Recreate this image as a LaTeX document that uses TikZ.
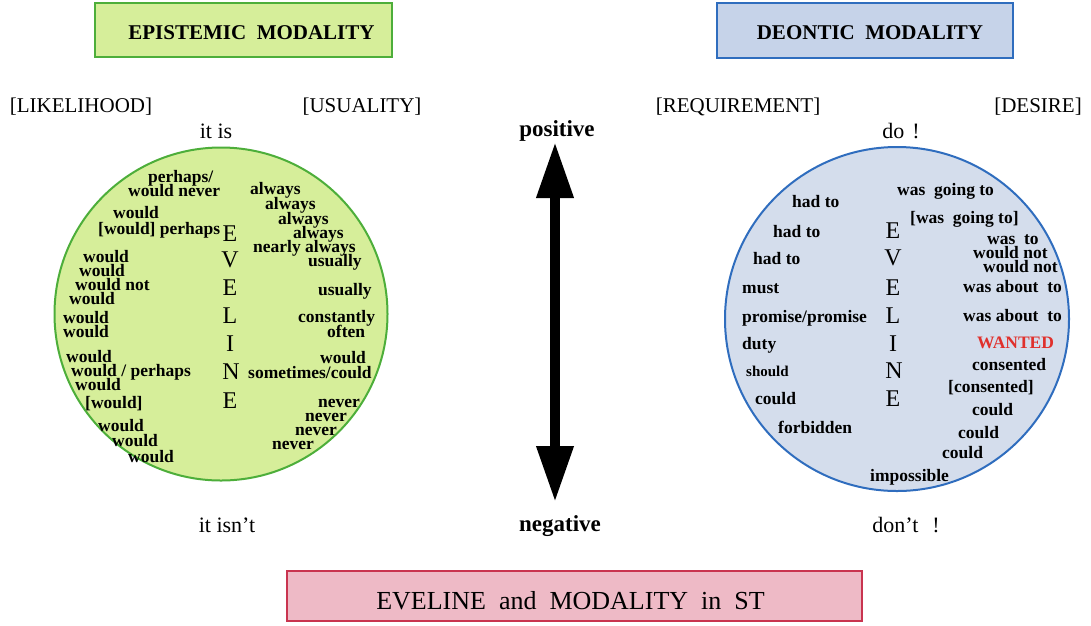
\documentclass[tikz,border=0pt]{standalone}
\usepackage{fontspec}
\setmainfont{Liberation Serif}
\usetikzlibrary{arrows.meta}

\definecolor{epifill}{HTML}{D6EE9A}
\definecolor{epiline}{HTML}{4DAE3A}
\definecolor{deofill}{HTML}{D4DDEC}
\definecolor{deoboxfill}{HTML}{C6D3E9}
\definecolor{deoline}{HTML}{2F6DBE}
\definecolor{stfill}{HTML}{EEBAC6}
\definecolor{stline}{HTML}{C9344F}
\definecolor{wantred}{HTML}{E0302C}

\begin{document}
\begin{tikzpicture}[x=1pt,y=-1pt,
  wd/.style={anchor=west,inner sep=0pt,font=\fontsize{17.5}{17.5}\selectfont\bfseries,text height=12pt,text depth=0pt},
  lbl/.style={inner sep=0pt,font=\fontsize{21}{21}\selectfont,text height=14pt,text depth=0pt},
  pole/.style={inner sep=0pt,font=\fontsize{23}{23}\selectfont\bfseries,text height=15pt,text depth=0pt},
  evl/.style={inner sep=0pt,font=\fontsize{24}{24}\selectfont,text height=16pt,text depth=0pt},
  titlebox/.style={rectangle,inner sep=0pt,line width=2pt,font=\fontsize{21}{21}\selectfont\bfseries,text height=18pt,text depth=0pt},
  disc/.style={circle,inner sep=0pt,line width=2pt}
]
\useasboundingbox (0,0) rectangle (1091,625);

% ---- headings ----
\node[titlebox,draw=epiline,fill=epifill,minimum width=297pt,minimum height=54pt] (epibox) at (243.5,30) {\hspace*{16pt}EPISTEMIC\ \ MODALITY};
\node[titlebox,draw=deoline,fill=deoboxfill,minimum width=296pt,minimum height=55pt] (deobox) at (865,30.5) {\hspace*{10pt}DEONTIC\ \ MODALITY};
\node[rectangle,inner sep=0pt,line width=2pt,draw=stline,fill=stfill,minimum width=575pt,minimum height=50pt,
      font=\fontsize{26}{26}\selectfont,text height=26pt,text depth=0pt] (stbox) at (574.5,596)
      {EVELINE\ \ and\ \ MODALITY\ \ in\ \ ST\hspace*{8pt}};

% ---- category labels ----
\node[lbl] (likel) at (81,105) {[LIKELIHOOD]};
\node[lbl] (usual) at (362,105) {[USUALITY]};
\node[lbl] (requi) at (738,105) {[REQUIREMENT]};
\node[lbl] (desir) at (1038,105) {[DESIRE]};
\node[lbl,font=\fontsize{22}{22}\selectfont] (itis) at (216,131) {it is};
\node[lbl,font=\fontsize{22}{22}\selectfont] (itisnt) at (227,525) {it isn’t};
\node[lbl,font=\fontsize{22}{22}\selectfont] (doit) at (901,131) {do\hspace{8pt}!};
\node[lbl,font=\fontsize{22}{22}\selectfont] (dont) at (906,525) {don’t\hspace{14pt}!};

% ---- polarity axis ----
\node[pole] (pos) at (557,129) {positive};
\node[pole] (neg) at (560,524) {negative};
\coordinate (axtop) at (555,142);
\coordinate (axbot) at (555,502);
\draw[line width=10pt,{Triangle[length=56pt,width=35pt]}-{Triangle[length=56pt,width=35pt]}] (axtop) -- (axbot);

% ---- epistemic disc ----
\node[disc,draw=epiline,fill=epifill,minimum size=333pt] (epidisc) at (221,314) {};
\node[evl] (le1) at (230,233) {E};
\node[evl] (le2) at (230,259) {V};
\node[evl] (le3) at (230,287) {E};
\node[evl] (le4) at (230,315) {L};
\node[evl] (le5) at (230,343) {I};
\node[evl] (le6) at (231,371) {N};
\node[evl] (le7) at (230,400) {E};

\node[wd] (ea1) at (148,176) {perhaps/};
\node[wd] (ea2) at (128,190) {would never};
\node[wd] (ea3) at (113,212) {would};
\node[wd] (ea4) at (98,228) {[would] perhaps};
\node[wd] (ea5) at (83,256) {would};
\node[wd] (ea6) at (79,270) {would};
\node[wd] (ea7) at (75,284) {would not};
\node[wd] (ea8) at (69,298) {would};
\node[wd] (ea9) at (63,317) {would};
\node[wd] (ea10) at (63,331) {would};
\node[wd] (ea11) at (66,356) {would};
\node[wd] (ea12) at (71,370) {would / perhaps};
\node[wd] (ea13) at (75,384) {would};
\node[wd] (ea14) at (85,402) {[would]};
\node[wd] (ea15) at (98,425) {would};
\node[wd] (ea16) at (112,440) {would};
\node[wd] (ea17) at (128,456) {would};

\node[wd] (eb1) at (250,188) {always};
\node[wd] (eb2) at (265,203) {always};
\node[wd] (eb3) at (278,218) {always};
\node[wd] (eb4) at (293,232) {always};
\node[wd] (eb5) at (253,246) {nearly always};
\node[wd] (eb6) at (308,260) {usually};
\node[wd] (eb7) at (318,289) {usually};
\node[wd] (eb8) at (298,316) {constantly};
\node[wd] (eb9) at (327,331) {often};
\node[wd] (eb10) at (320,357) {would};
\node[wd] (eb11) at (248,372) {sometimes/could};
\node[wd] (eb12) at (318,401) {never};
\node[wd] (eb13) at (305,415) {never};
\node[wd] (eb14) at (295,429) {never};
\node[wd] (eb15) at (272,443) {never};

% ---- deontic disc ----
\node[disc,draw=deoline,fill=deofill,minimum size=344pt] (deodisc) at (897,319) {};
\node[evl] (re1) at (893,230) {E};
\node[evl] (re2) at (893,257) {V};
\node[evl] (re3) at (893,287) {E};
\node[evl] (re4) at (893,315) {L};
\node[evl] (re5) at (893,343) {I};
\node[evl] (re6) at (894,370) {N};
\node[evl] (re7) at (893,398) {E};

\node[wd] (da1) at (792,201) {had to};
\node[wd] (da2) at (773,231) {had to};
\node[wd] (da3) at (753,258) {had to};
\node[wd] (da4) at (742,287) {must};
\node[wd] (da5) at (742,316) {promise/promise};
\node[wd] (da6) at (742,343) {duty};
\node[wd,font=\fontsize{15}{15}\selectfont\bfseries] (da7) at (746,370) {should};
\node[wd] (da8) at (755,398) {could};
\node[wd] (da9) at (778,427) {forbidden};

\node[wd] (db1) at (897,189) {was\ \ going to};
\node[wd] (db2) at (910,217) {[was\ \ going to]};
\node[wd] (db3) at (987,238) {was\ \ to};
\node[wd] (db4) at (973,252) {would not};
\node[wd] (db5) at (983,266) {would not};
\node[wd] (db6) at (963,286) {was about\ \ to};
\node[wd] (db7) at (963,315) {was about\ \ to};
\node[wd,text=wantred] (db8) at (977,342) {WANTED};
\node[wd] (db9) at (972,364) {consented};
\node[wd] (db10) at (948,386) {[consented]};
\node[wd] (db11) at (972,409) {could};
\node[wd] (db12) at (958,432) {could};
\node[wd] (db13) at (942,452) {could};
\node[wd] (db14) at (870,475) {impossible};
\end{tikzpicture}
\end{document}
